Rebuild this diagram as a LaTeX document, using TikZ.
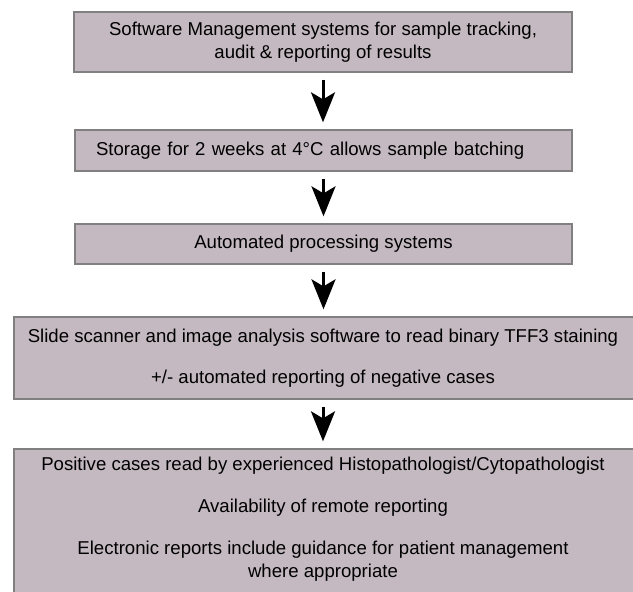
\documentclass[tikz,border=0pt]{standalone}
\usepackage{fontspec}
\setmainfont{Liberation Sans}
\usetikzlibrary{arrows.meta}
\definecolor{boxfill}{RGB}{196,185,193}
\definecolor{boxline}{RGB}{128,128,128}
\tikzset{
  stepbox/.style={draw=boxline, line width=1.3pt, fill=boxfill, inner sep=0pt, align=center,
    font=\fontsize{18.6}{22.5}\selectfont},
  steptext/.style={inner sep=0pt, align=center, font=\fontsize{18.6}{22.5}\selectfont},
  flowarrow/.style={-{Stealth[length=30pt,width=24pt,inset=7pt]}, line width=3pt,
    shorten <=7pt, shorten >=7pt}
}
\begin{document}
\begin{tikzpicture}[x=1pt,y=-1pt]
\useasboundingbox (0,0) rectangle (633,592);
\clip (0,0) rectangle (633,592);
\fill[white] (0,0) rectangle (633,592);
\node[stepbox, minimum width=498pt, minimum height=60pt] (b1) at (323,42)
  {Software Management systems for sample tracking,\\audit \& reporting of results};
\node[stepbox, text width=455pt, inner xsep=21pt, align=left, minimum height=41pt] (b2) at (323.5,150.5)
  {Storage for 2 weeks at 4°C allows sample batching};
\node[stepbox, minimum width=497pt, minimum height=40pt] (b3) at (323.5,244)
  {Automated processing systems};
\node[stepbox, minimum width=631pt, minimum height=82pt] (b4) at (329.5,358) {};
\node[steptext] (t4) at (323,358)
  {Slide scanner and image analysis software to read binary TFF3 staining\\[18.5pt]+/- automated reporting of negative cases};
\node[stepbox, minimum width=631pt, minimum height=156pt] (b5) at (329.5,527) {};
\node[steptext] (t5) at (323,519)
  {Positive cases read by experienced Histopathologist/Cytopathologist\\[19.5pt]Availability of remote reporting\\[19.5pt]Electronic reports include guidance for patient management\\where appropriate};
\draw[flowarrow] (b1.south) -- (b1.south |- b2.north);
\draw[flowarrow] (b2.south) -- (b2.south |- b3.north);
\draw[flowarrow] (b3.south) -- (b3.south |- b4.north);
\draw[flowarrow] (t4 |- b4.south) -- (t4 |- b5.north);
\end{tikzpicture}
\end{document}
